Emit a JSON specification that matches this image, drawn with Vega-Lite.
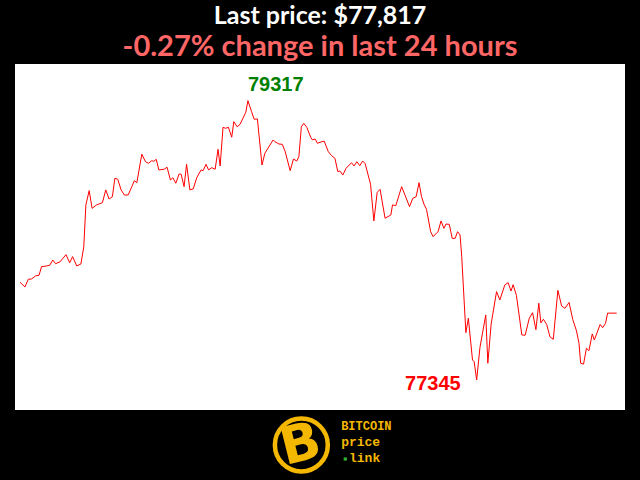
{
  "$schema": "https://vega.github.io/schema/vega-lite/v6.json",
  "width": 610,
  "height": 346,
  "autosize": {"type": "none"},
  "padding": {"left": 15, "top": 64, "right": 15, "bottom": 70},
  "background": "black",
  "view": {"fill": "white", "stroke": null},
  "title": {
    "text": "Last price: $77,817",
    "subtitle": "-0.27% change in last 24 hours",
    "anchor": "middle",
    "font": "Lato",
    "fontWeight": "bold",
    "fontSize": 25,
    "color": "white",
    "subtitleFont": "Lato",
    "subtitleFontWeight": "bold",
    "subtitleFontSize": 29,
    "subtitleColor": "#ff6666",
    "subtitlePadding": 4,
    "offset": 2
  },
  "data": {"values": [
    {"t":0,"v":78035},{"t":12,"v":78002},{"t":20,"v":78056},{"t":28,"v":78058},{"t":38,"v":78081},{"t":46,"v":78084},
    {"t":52,"v":78145},{"t":64,"v":78150},{"t":72,"v":78155},{"t":79,"v":78192},{"t":86,"v":78166},{"t":97,"v":78180},
    {"t":111,"v":78230},{"t":120,"v":78173},{"t":127,"v":78216},{"t":137,"v":78150},{"t":147,"v":78164},{"t":154,"v":78286},
    {"t":159,"v":78581},{"t":167,"v":78682},{"t":174,"v":78557},{"t":185,"v":78581},{"t":191,"v":78588},{"t":199,"v":78597},
    {"t":207,"v":78687},{"t":215,"v":78623},{"t":223,"v":78639},{"t":229,"v":78769},{"t":236,"v":78762},{"t":244,"v":78687},
    {"t":252,"v":78651},{"t":261,"v":78651},{"t":270,"v":78710},{"t":276,"v":78752},{"t":282,"v":78738},{"t":294,"v":78939},
    {"t":303,"v":78886},{"t":310,"v":78875},{"t":318,"v":78893},{"t":323,"v":78889},{"t":329,"v":78903},{"t":335,"v":78828},
    {"t":348,"v":78833},{"t":355,"v":78847},{"t":363,"v":78757},{"t":369,"v":78773},{"t":376,"v":78734},{"t":384,"v":78800},
    {"t":389,"v":78797},{"t":396,"v":78710},{"t":402,"v":78868},{"t":410,"v":78687},{"t":418,"v":78694},{"t":427,"v":78776},
    {"t":437,"v":78828},{"t":442,"v":78823},{"t":449,"v":78868},{"t":455,"v":78828},{"t":463,"v":78844},{"t":471,"v":78833},
    {"t":478,"v":78974},{"t":483,"v":78856},{"t":490,"v":79129},{"t":496,"v":79122},{"t":503,"v":79129},{"t":511,"v":79059},
    {"t":516,"v":79169},{"t":524,"v":79133},{"t":531,"v":79150},{"t":545,"v":79235},{"t":550,"v":79317},{"t":559,"v":79239},
    {"t":565,"v":79186},{"t":573,"v":79188},{"t":584,"v":78863},{"t":591,"v":78946},{"t":611,"v":79040},{"t":615,"v":79028},
    {"t":625,"v":79011},{"t":633,"v":79009},{"t":640,"v":78957},{"t":652,"v":78823},{"t":660,"v":78905},{"t":668,"v":78891},
    {"t":673,"v":78922},{"t":679,"v":79133},{"t":685,"v":79157},{"t":692,"v":79129},{"t":702,"v":79056},{"t":706,"v":79040},
    {"t":712,"v":79047},{"t":718,"v":79016},{"t":724,"v":79023},{"t":734,"v":79032},{"t":744,"v":78957},{"t":752,"v":78929},
    {"t":760,"v":78910},{"t":767,"v":78816},{"t":772,"v":78821},{"t":779,"v":78792},{"t":787,"v":78840},{"t":800,"v":78879},
    {"t":806,"v":78856},{"t":813,"v":78886},{"t":820,"v":78858},{"t":827,"v":78891},{"t":833,"v":78872},{"t":846,"v":78727},
    {"t":854,"v":78468},{"t":862,"v":78670},{"t":869,"v":78691},{"t":881,"v":78487},{"t":895,"v":78510},{"t":899,"v":78581},
    {"t":907,"v":78576},{"t":921,"v":78710},{"t":940,"v":78569},{"t":948,"v":78628},{"t":956,"v":78639},{"t":963,"v":78738},
    {"t":969,"v":78639},{"t":975,"v":78586},{"t":981,"v":78550},{"t":991,"v":78392},{"t":997,"v":78357},{"t":1006,"v":78385},
    {"t":1009,"v":78392},{"t":1016,"v":78468},{"t":1023,"v":78416},{"t":1028,"v":78446},{"t":1036,"v":78444},{"t":1043,"v":78345},
    {"t":1050,"v":78345},{"t":1056,"v":78392},{"t":1062,"v":78369},{"t":1066,"v":78216},{"t":1076,"v":77679},{"t":1082,"v":77781},
    {"t":1092,"v":77486},{"t":1096,"v":77474},{"t":1102,"v":77345},{"t":1110,"v":77575},{"t":1124,"v":77804},{"t":1129,"v":77463},
    {"t":1137,"v":77740},{"t":1150,"v":77969},{"t":1158,"v":77910},{"t":1170,"v":78016},{"t":1178,"v":78032},{"t":1185,"v":77973},
    {"t":1190,"v":78018},{"t":1198,"v":77942},{"t":1211,"v":77663},{"t":1219,"v":77661},{"t":1229,"v":77781},{"t":1237,"v":77820},
    {"t":1245,"v":77700},{"t":1252,"v":77887},{"t":1257,"v":77748},{"t":1263,"v":77774},{"t":1271,"v":77737},{"t":1279,"v":77649},
    {"t":1287,"v":77632},{"t":1298,"v":77978},{"t":1307,"v":77868},{"t":1315,"v":77851},{"t":1325,"v":77892},{"t":1334,"v":77772},
    {"t":1343,"v":77691},{"t":1349,"v":77604},{"t":1353,"v":77463},{"t":1360,"v":77457},{"t":1367,"v":77569},{"t":1373,"v":77552},
    {"t":1381,"v":77670},{"t":1386,"v":77627},{"t":1400,"v":77737},{"t":1406,"v":77714},{"t":1413,"v":77745},{"t":1418,"v":77817},
    {"t":1440,"v":77817}
  ]},
  "encoding": {
    "x": {"field": "t", "type": "quantitative", "scale": {"domain": [-12, 1460], "nice": false, "zero": false}, "axis": null},
    "y": {"field": "v", "type": "quantitative", "scale": {"domain": [77133, 79576], "nice": false, "zero": false}, "axis": null}
  },
  "layer": [
    {"mark": {"type": "line", "color": "#ff0000", "strokeWidth": 1, "clip": false}},
    {
      "transform": [
        {"joinaggregate": [{"op": "max", "field": "v", "as": "vmax"}]},
        {"filter": "datum.v === datum.vmax"}
      ],
      "mark": {"type": "text", "align": "left", "baseline": "alphabetic", "dy": -10, "font": "Liberation Sans", "fontWeight": "bold", "fontSize": 20, "color": "#008000", "clip": false},
      "encoding": {"text": {"field": "v", "type": "quantitative", "format": "d"}}
    },
    {
      "transform": [
        {"joinaggregate": [{"op": "min", "field": "v", "as": "vmin"}]},
        {"filter": "datum.v === datum.vmin"}
      ],
      "mark": {"type": "text", "align": "right", "baseline": "alphabetic", "dx": -16, "dy": 10, "font": "Liberation Sans", "fontWeight": "bold", "fontSize": 20, "color": "#ff0000", "clip": false},
      "encoding": {"text": {"field": "v", "type": "quantitative", "format": "d"}}
    },
    {
      "transform": [{"filter": "datum.t === 1440"}],
      "mark": {"type": "point", "shape": "circle", "filled": false, "stroke": "#f5b800", "strokeWidth": 4.5, "size": 2800, "opacity": 1, "clip": false},
      "encoding": {"x": {"datum": 679}, "y": {"datum": 76886}}
    },
    {
      "transform": [{"filter": "datum.t === 1440"}],
      "mark": {"type": "text", "text": "B", "font": "DejaVu Sans", "fontWeight": "bold", "fontSize": 52, "color": "#f5b800", "angle": -14, "align": "center", "baseline": "middle", "clip": false},
      "encoding": {"x": {"datum": 677}, "y": {"datum": 76886}}
    },
    {
      "transform": [{"filter": "datum.t === 1440"}],
      "mark": {"type": "text", "text": "BITCOIN", "font": "Liberation Mono", "fontWeight": "bold", "fontSize": 12, "color": "#f5b800", "align": "left", "baseline": "alphabetic", "clip": false},
      "encoding": {"x": {"datum": 775}, "y": {"datum": 76992}}
    },
    {
      "transform": [{"filter": "datum.t === 1440"}],
      "mark": {"type": "text", "text": "price", "font": "Liberation Mono", "fontWeight": "bold", "fontSize": 13, "color": "#f5b800", "align": "left", "baseline": "alphabetic", "clip": false},
      "encoding": {"x": {"datum": 775}, "y": {"datum": 76879}}
    },
    {
      "transform": [{"filter": "datum.t === 1440"}],
      "mark": {"type": "text", "text": "link", "font": "Liberation Mono", "fontWeight": "bold", "fontSize": 13, "color": "#f5b800", "align": "left", "baseline": "alphabetic", "clip": false},
      "encoding": {"x": {"datum": 794}, "y": {"datum": 76766}}
    },
    {
      "transform": [{"filter": "datum.t === 1440"}],
      "mark": {"type": "square", "color": "#2db82d", "size": 10, "opacity": 1, "clip": false},
      "encoding": {"x": {"datum": 785}, "y": {"datum": 76787}}
    }
  ]
}
